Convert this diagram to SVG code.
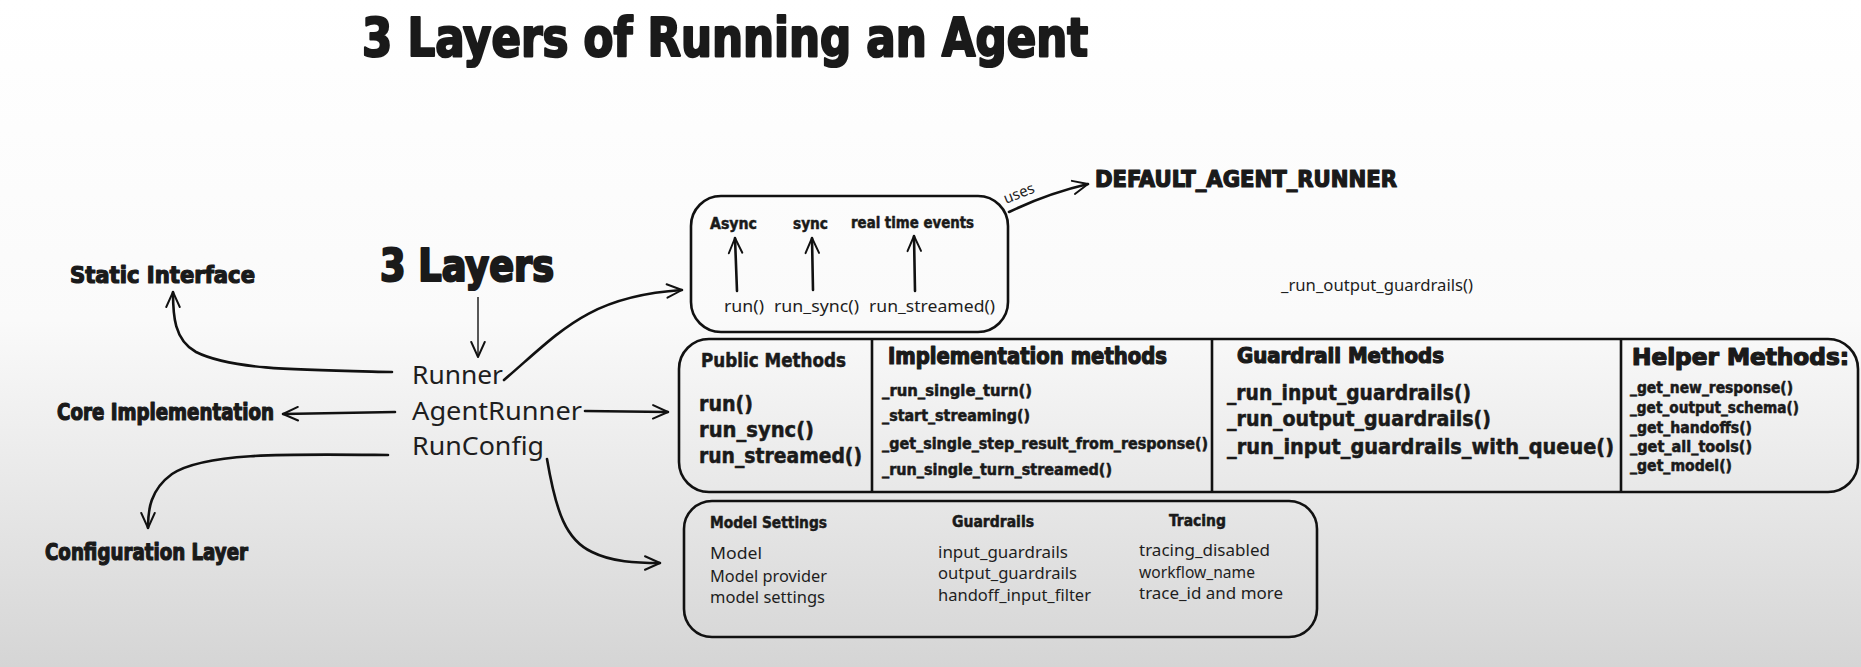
<svg xmlns="http://www.w3.org/2000/svg" width="1861" height="667" viewBox="0 0 1861 667">
<defs>
<linearGradient id="bg" x1="0" y1="0" x2="0" y2="1">
<stop offset="0" stop-color="#ffffff"/>
<stop offset="0.48" stop-color="#fafafa"/>
<stop offset="1" stop-color="#d5d5d5"/>
</linearGradient>
<marker id="ah" viewBox="0 0 12 12" refX="11" refY="6" markerWidth="18" markerHeight="18" orient="auto" markerUnits="userSpaceOnUse">
<path d="M1,1.5 L11,6 L1,10.5" fill="none" stroke="#111" stroke-width="1.3" stroke-linecap="round" stroke-linejoin="round"/>
</marker>
<style>
.hv{font-family:"DejaVu Sans Condensed","DejaVu Sans","Liberation Sans",sans-serif;font-weight:bold;fill:#1a1a1a;stroke:#1a1a1a;stroke-width:0.5;stroke-linejoin:round}
.hx{stroke-width:1.2}
.ht{stroke-width:2.2}
.rg{font-family:"Noto Sans","Open Sans","Liberation Sans",sans-serif;fill:#1e1e1e}
.box{fill:none;stroke:#111;stroke-width:2.6}
.ln{fill:none;stroke:#111;stroke-width:2.6;stroke-linecap:round}
.thin{fill:none;stroke:#222;stroke-width:1.5}
</style>
</defs>
<rect x="0" y="0" width="1861" height="667" fill="url(#bg)"/>

<g id="title">
<text class="hv ht" x="362" y="56" font-size="54" textLength="726" lengthAdjust="spacingAndGlyphs">3 Layers of Running an Agent</text>
</g>

<g id="layers-label">
<text class="hv ht" x="380" y="281" font-size="44" textLength="174" lengthAdjust="spacingAndGlyphs">3 Layers</text>
</g>

<g id="static-interface">
<text class="hv hx" x="70" y="283" font-size="23" textLength="185" lengthAdjust="spacingAndGlyphs">Static Interface</text>
</g>
<g id="core-implementation">
<text class="hv hx" x="57" y="420" font-size="23" textLength="217" lengthAdjust="spacingAndGlyphs">Core Implementation</text>
</g>
<g id="configuration-layer">
<text class="hv hx" x="45" y="560" font-size="23" textLength="203" lengthAdjust="spacingAndGlyphs">Configuration Layer</text>
</g>

<g id="runner-classes">
<text class="rg" x="412" y="384" font-size="26" textLength="91" lengthAdjust="spacingAndGlyphs">Runner</text>
<text class="rg" x="412" y="420" font-size="26" textLength="170" lengthAdjust="spacingAndGlyphs">AgentRunner</text>
<text class="rg" x="412" y="455" font-size="26" textLength="132" lengthAdjust="spacingAndGlyphs">RunConfig</text>
</g>

<g id="modes-box">
<rect class="box" x="691" y="196" width="317" height="136" rx="30"/>
<text class="hv" x="710" y="229" font-size="16" textLength="47" lengthAdjust="spacingAndGlyphs">Async</text>
<text class="hv" x="793" y="229" font-size="16" textLength="35" lengthAdjust="spacingAndGlyphs">sync</text>
<text class="hv" x="851" y="228" font-size="16" textLength="123" lengthAdjust="spacingAndGlyphs">real time events</text>
<text class="rg" x="724" y="312" font-size="17" textLength="40" lengthAdjust="spacingAndGlyphs">run()</text>
<text class="rg" x="774" y="312" font-size="17" textLength="85" lengthAdjust="spacingAndGlyphs">run_sync()</text>
<text class="rg" x="869" y="312" font-size="17" textLength="126" lengthAdjust="spacingAndGlyphs">run_streamed()</text>
</g>

<g id="default-agent-runner">
<text class="hv hx" x="1095" y="187" font-size="23" textLength="302" lengthAdjust="spacingAndGlyphs">DEFAULT_AGENT_RUNNER</text>
</g>

<g id="floating-label">
<text class="rg" x="1281" y="291" font-size="16" fill="#333" textLength="192" lengthAdjust="spacingAndGlyphs">_run_output_guardrails()</text>
</g>

<g id="agentrunner-box">
<rect class="box" x="679" y="339" width="1179" height="153" rx="30"/>
<line class="ln" x1="872" y1="340" x2="872" y2="491"/>
<line class="ln" x1="1212" y1="340" x2="1212" y2="491"/>
<line class="ln" x1="1621" y1="340" x2="1621" y2="491"/>
<text class="hv" x="701" y="367" font-size="19" textLength="145" lengthAdjust="spacingAndGlyphs">Public Methods</text>
<text class="hv" x="699" y="411" font-size="21" textLength="54" lengthAdjust="spacingAndGlyphs">run()</text>
<text class="hv" x="699" y="437" font-size="21" textLength="115" lengthAdjust="spacingAndGlyphs">run_sync()</text>
<text class="hv" x="699" y="463" font-size="21" textLength="163" lengthAdjust="spacingAndGlyphs">run_streamed()</text>

<text class="hv hx" x="888" y="364" font-size="23" textLength="279" lengthAdjust="spacingAndGlyphs">Implementation methods</text>
<text class="hv" x="882" y="396" font-size="15" textLength="150" lengthAdjust="spacingAndGlyphs">_run_single_turn()</text>
<text class="hv" x="882" y="421" font-size="15" textLength="148" lengthAdjust="spacingAndGlyphs">_start_streaming()</text>
<text class="hv" x="882" y="449" font-size="15" textLength="326" lengthAdjust="spacingAndGlyphs">_get_single_step_result_from_response()</text>
<text class="hv" x="882" y="475" font-size="15" textLength="230" lengthAdjust="spacingAndGlyphs">_run_single_turn_streamed()</text>

<text class="hv hx" x="1237" y="363" font-size="22" textLength="207" lengthAdjust="spacingAndGlyphs">Guardrail Methods</text>
<text class="hv" x="1227" y="400" font-size="21" textLength="244" lengthAdjust="spacingAndGlyphs">_run_input_guardrails()</text>
<text class="hv" x="1227" y="426" font-size="21" textLength="264" lengthAdjust="spacingAndGlyphs">_run_output_guardrails()</text>
<text class="hv" x="1227" y="454" font-size="21" textLength="387" lengthAdjust="spacingAndGlyphs">_run_input_guardrails_with_queue()</text>

<text class="hv hx" x="1632" y="365" font-size="23" textLength="217" lengthAdjust="spacingAndGlyphs">Helper Methods:</text>
<text class="hv" x="1630" y="393" font-size="15" textLength="163" lengthAdjust="spacingAndGlyphs">_get_new_response()</text>
<text class="hv" x="1630" y="413" font-size="15" textLength="169" lengthAdjust="spacingAndGlyphs">_get_output_schema()</text>
<text class="hv" x="1630" y="433" font-size="15" textLength="122" lengthAdjust="spacingAndGlyphs">_get_handoffs()</text>
<text class="hv" x="1630" y="452" font-size="15" textLength="122" lengthAdjust="spacingAndGlyphs">_get_all_tools()</text>
<text class="hv" x="1630" y="471" font-size="15" textLength="102" lengthAdjust="spacingAndGlyphs">_get_model()</text>
</g>

<g id="runconfig-box">
<rect class="box" x="684" y="501" width="633" height="136" rx="28"/>
<text class="hv" x="710" y="528" font-size="16" textLength="117" lengthAdjust="spacingAndGlyphs">Model Settings</text>
<text class="hv" x="952" y="527" font-size="16" textLength="82" lengthAdjust="spacingAndGlyphs">Guardrails</text>
<text class="hv" x="1169" y="526" font-size="16" textLength="57" lengthAdjust="spacingAndGlyphs">Tracing</text>
<text class="rg" x="710" y="559" font-size="17" textLength="52" lengthAdjust="spacingAndGlyphs">Model</text>
<text class="rg" x="710" y="582" font-size="17" textLength="117" lengthAdjust="spacingAndGlyphs">Model provider</text>
<text class="rg" x="710" y="603" font-size="17" textLength="115" lengthAdjust="spacingAndGlyphs">model settings</text>
<text class="rg" x="938" y="558" font-size="17" textLength="130" lengthAdjust="spacingAndGlyphs">input_guardrails</text>
<text class="rg" x="938" y="579" font-size="17" textLength="139" lengthAdjust="spacingAndGlyphs">output_guardrails</text>
<text class="rg" x="938" y="601" font-size="17" textLength="153" lengthAdjust="spacingAndGlyphs">handoff_input_filter</text>
<text class="rg" x="1139" y="556" font-size="17" textLength="131" lengthAdjust="spacingAndGlyphs">tracing_disabled</text>
<text class="rg" x="1139" y="578" font-size="17" textLength="116" lengthAdjust="spacingAndGlyphs">workflow_name</text>
<text class="rg" x="1139" y="599" font-size="17" textLength="144" lengthAdjust="spacingAndGlyphs">trace_id  and more</text>
</g>

<g id="connectors">
<path class="thin" d="M478,297 L478,357" marker-end="url(#ah)"/>
<path class="ln" d="M392,372 C300,370 232,370 196,352 C174,340 173,315 173,292" marker-end="url(#ah)"/>
<path class="ln" d="M504,380 C560,332 588,296 682,290" marker-end="url(#ah)"/>
<path class="ln" d="M395,412 L283,414" marker-end="url(#ah)"/>
<path class="ln" d="M585,411 L668,412" marker-end="url(#ah)"/>
<path class="ln" d="M388,455 C290,454 205,452 172,474 C150,490 148,510 148,528" marker-end="url(#ah)"/>
<path class="ln" d="M547,459 C556,512 566,540 592,552 C612,562 636,563 660,563" marker-end="url(#ah)"/>
<path class="ln" d="M737,291 L735,238" marker-end="url(#ah)"/>
<path class="ln" d="M813,290 L812,238" marker-end="url(#ah)"/>
<path class="ln" d="M915,291 L914,236" marker-end="url(#ah)"/>
<path class="ln" d="M1009,212 C1036,199 1058,191 1088,184" marker-end="url(#ah)"/>
<text class="rg" x="1006" y="204" font-size="15" fill="#444" transform="rotate(-22 1006 204)">uses</text>
</g>
</svg>
